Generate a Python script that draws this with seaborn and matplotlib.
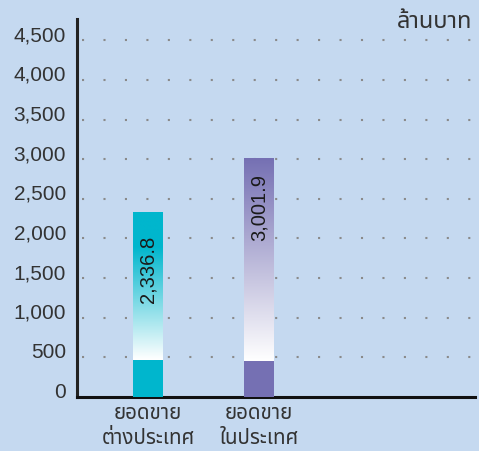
import numpy as np
import pandas as pd
import matplotlib
matplotlib.use("Agg")
import matplotlib.pyplot as plt
from matplotlib.colors import LinearSegmentedColormap
import seaborn as sns

# data
categories = ["ยอดขาย\nต่างประเทศ", "ยอดขาย\nในประเทศ"]
values = [2336.8, 3001.9]
value_labels = ["2,336.8", "3,001.9"]
yticks = [0, 500, 1000, 1500, 2000, 2500, 3000, 3500, 4000, 4500]
unit_label = "ล้านบาท"

bar_colors = ["#00B6CD", "#7570B3"]
bg = "#C5D9F0"

sns.set_theme(style="white")
plt.rcParams["font.family"] = ["Liberation Sans", "Noto Sans Thai", "DejaVu Sans"]

fig = plt.figure(figsize=(4.79, 4.52), dpi=100, facecolor=bg)
ax = fig.add_axes([0.1608, 0.1195, 0.8308, 0.8363])
ax.set_facecolor(bg)

df = pd.DataFrame({"cat": categories, "val": values})
sns.barplot(data=df, x="cat", y="val", hue="cat", palette=bar_colors,
            width=0.27, saturation=1, legend=False, ax=ax, zorder=3,
            linewidth=0, edgecolor="none")

# gradient part of each bar: white near the bottom fading into the bar colour
solid_base = [470, 450]
fade_top = [1900, None]
label_mid = [1620, 2400]
for i, p in enumerate(ax.patches):
    x0 = p.get_x()
    w = p.get_width()
    top = p.get_height()
    lo = solid_base[i]
    hi = fade_top[i] if fade_top[i] else top
    cmap = LinearSegmentedColormap.from_list("g%d" % i, ["#FFFFFF", bar_colors[i]])
    ys = np.linspace(lo, top, 256)
    grad = np.clip((ys - lo) / (hi - lo), 0, 1).reshape(-1, 1)
    ax.imshow(grad, cmap=cmap, vmin=0, vmax=1, origin="lower", aspect="auto",
              extent=[x0, x0 + w, lo, top], zorder=4, interpolation="bilinear")
    ax.text(x0 + w / 2, label_mid[i], value_labels[i], rotation=90,
            ha="center", va="center", fontsize=14.5, color="#1a1a1a", zorder=5)
ax.set_xlim(-0.64, 2.95)
ax.set_ylim(0, 4770)

# dotted grid
for yv in yticks[1:]:
    ax.axhline(yv, color="#8a8a8a", lw=1.5, ls=(7.9, (1, 9.3)), zorder=1)

# y labels sit on the grid line (baseline), not centred on it
ax.set_yticks(yticks)
ax.set_yticklabels([])
trans = ax.get_yaxis_transform()
for yv in yticks:
    ax.text(-0.028, yv, "{:,}".format(yv), transform=trans, ha="right",
            va="baseline", fontsize=15, color="#333333")
ax.tick_params(axis="y", length=0)
ax.tick_params(axis="x", length=0, pad=4)
ax.set_xticks([0, 1])
ax.set_xticklabels(categories, fontsize=14.8, color="#333333", linespacing=1.4)
ax.set_xlabel("")
ax.set_ylabel("")

for s in ["top", "right"]:
    ax.spines[s].set_visible(False)
ax.spines["left"].set_color("#222222")
ax.spines["left"].set_linewidth(2.2)
ax.spines["bottom"].set_color("#111111")
ax.spines["bottom"].set_linewidth(2.2)

fig.text(0.986, 0.951, unit_label, ha="right", va="center", fontsize=17,
         color="#333333")

fig.savefig("out.png", dpi=100, facecolor=bg)
